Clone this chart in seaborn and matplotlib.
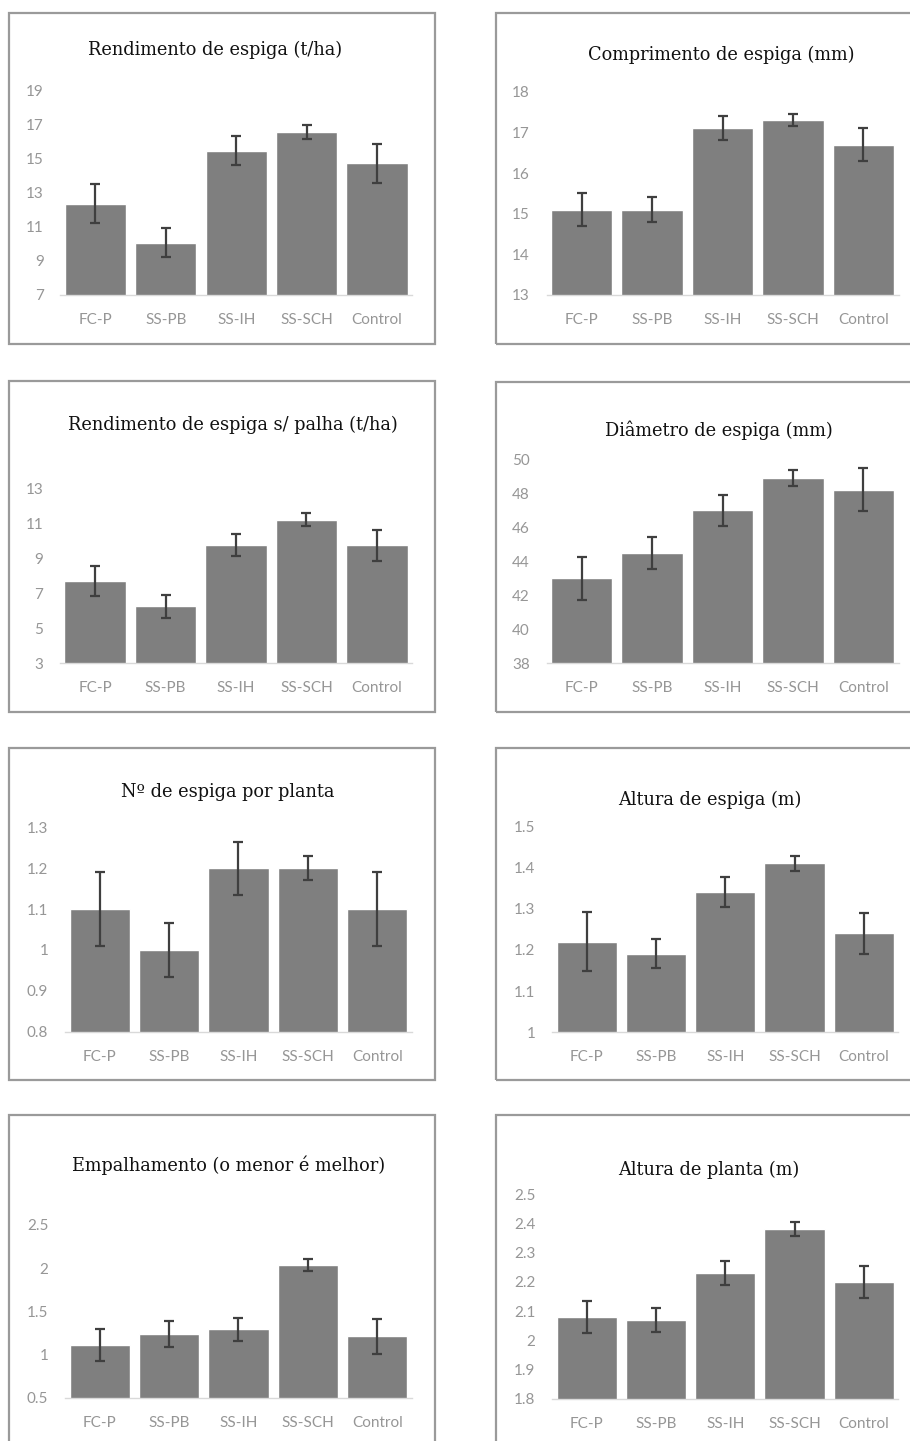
import numpy as np
import pandas as pd
import matplotlib
matplotlib.use("Agg")
import matplotlib.pyplot as plt
from matplotlib.patches import Rectangle
from matplotlib.ticker import FuncFormatter
import seaborn as sns

sns.set_theme(style="white")
plt.rcParams["font.family"] = ["Lato", "DejaVu Sans"]

# Treatments
categories = ["FC-P", "SS-PB", "SS-IH", "SS-SCH", "Control"]

# Panel titles
titles = [
    "Rendimento de espiga (t/ha)",
    "Comprimento de espiga (mm)",
    "Rendimento de espiga s/ palha (t/ha)",
    "Diâmetro de espiga (mm)",
    "Nº de espiga por planta",
    "Altura de espiga (m)",
    "Empalhamento (o menor é melhor)",
    "Altura de planta (m)",
]

# Means per treatment
rend_espiga = [12.35, 10.05, 15.45, 16.55, 14.7]
comp_espiga = [15.1, 15.1, 17.1, 17.3, 16.7]
rend_sem_palha = [7.7, 6.25, 9.75, 11.2, 9.75]
diam_espiga = [43.0, 44.5, 47.0, 48.9, 48.2]
n_espiga = [1.1, 1.0, 1.2, 1.2, 1.1]
alt_espiga = [1.22, 1.19, 1.34, 1.41, 1.24]
empalhamento = [1.11, 1.24, 1.29, 2.04, 1.21]
alt_planta = [2.08, 2.07, 2.23, 2.38, 2.2]

# Standard errors
rend_espiga_err = [1.15, 0.85, 0.85, 0.43, 1.15]
comp_espiga_err = [0.4, 0.3, 0.3, 0.15, 0.4]
rend_sem_palha_err = [0.85, 0.65, 0.62, 0.37, 0.88]
diam_espiga_err = [1.25, 0.95, 0.9, 0.48, 1.27]
n_espiga_err = [0.09, 0.065, 0.065, 0.03, 0.09]
alt_espiga_err = [0.072, 0.035, 0.036, 0.018, 0.05]
empalhamento_err = [0.18, 0.15, 0.13, 0.07, 0.2]
alt_planta_err = [0.055, 0.04, 0.04, 0.025, 0.055]

# Y axis ticks per panel
ticks_rend_espiga = [7, 9, 11, 13, 15, 17, 19]
ticks_comp_espiga = [13, 14, 15, 16, 17, 18]
ticks_rend_sem_palha = [3, 5, 7, 9, 11, 13]
ticks_diam_espiga = [38, 40, 42, 44, 46, 48, 50]
ticks_n_espiga = [0.8, 0.9, 1.0, 1.1, 1.2, 1.3]
ticks_alt_espiga = [1.0, 1.1, 1.2, 1.3, 1.4, 1.5]
ticks_empalhamento = [0.5, 1.0, 1.5, 2.0, 2.5]
ticks_alt_planta = [1.8, 1.9, 2.0, 2.1, 2.2, 2.3, 2.4, 2.5]

means = [rend_espiga, comp_espiga, rend_sem_palha, diam_espiga,
         n_espiga, alt_espiga, empalhamento, alt_planta]
errors = [rend_espiga_err, comp_espiga_err, rend_sem_palha_err, diam_espiga_err,
          n_espiga_err, alt_espiga_err, empalhamento_err, alt_planta_err]
yticks = [ticks_rend_espiga, ticks_comp_espiga, ticks_rend_sem_palha, ticks_diam_espiga,
          ticks_n_espiga, ticks_alt_espiga, ticks_empalhamento, ticks_alt_planta]

W, H = 910, 1441
fig = plt.figure(figsize=(W / 100, H / 100), dpi=100)
fig.patch.set_facecolor("white")

# Panel frames (pixel boxes: left, top, right, bottom)
frames = [
    (9, 13, 435, 344), (496, 13, 918, 344),
    (9, 381, 435, 712), (496, 382, 918, 712),
    (9, 748, 435, 1080), (496, 748, 918, 1080),
    (9, 1115, 435, 1460), (496, 1115, 918, 1460),
]
# Plot areas (pixel boxes: left, top, right, bottom)
areas = [
    (60.3, 90, 412.2, 295), (546.5, 91.7, 898.5, 295),
    (59.8, 488.3, 412.2, 663.3), (546.5, 459.3, 898.5, 663.3),
    (65, 827.3, 412, 1031.7), (552.1, 826, 898.4, 1032.3),
    (65, 1225, 412, 1397.7), (552.1, 1194, 898.4, 1399),
]
# Title centres (pixels)
title_pos = [
    (214.7, 50), (720.8, 55),
    (233, 425), (719, 430),
    (227.5, 792), (710, 800),
    (229, 1165), (709, 1170),
]

for (l, t, r, b) in frames:
    fig.patches.append(Rectangle((l / W, 1 - b / H), (r - l) / W, (b - t) / H,
                                 transform=fig.transFigure, fill=False,
                                 edgecolor="#9a9a9a", linewidth=1.6, zorder=0))

fmt = FuncFormatter(lambda v, _: f"{v:g}")

for i in range(8):
    l, t, r, b = areas[i]
    ax = fig.add_axes([l / W, 1 - b / H, (r - l) / W, (b - t) / H])
    df = pd.DataFrame({"trat": categories, "valor": means[i]})
    sns.barplot(data=df, x="trat", y="valor", color="#7f7f7f", saturation=1,
                width=0.87, errorbar=None, ax=ax)
    ax.errorbar(x=np.arange(len(categories)), y=means[i], yerr=errors[i],
                fmt="none", ecolor="#3f3f3f", elinewidth=1.6, capsize=3.5,
                capthick=1.6, zorder=5)
    ax.set_xlim(-0.5, len(categories) - 0.5)
    ax.set_ylim(yticks[i][0], yticks[i][-1])
    ax.set_yticks(yticks[i])
    ax.yaxis.set_major_formatter(fmt)
    ax.set_xlabel("")
    ax.set_ylabel("")
    ax.set_facecolor("none")
    for side in ["top", "right", "left"]:
        ax.spines[side].set_visible(False)
    ax.spines["bottom"].set_color("#d9d9d9")
    ax.spines["bottom"].set_linewidth(1.0)
    ax.tick_params(axis="both", length=0, labelsize=11, labelcolor="#969696")
    ax.tick_params(axis="y", pad=12)
    ax.tick_params(axis="x", pad=13)
    tx, ty = title_pos[i]
    fig.text(tx / W, 1 - ty / H, titles[i], ha="center", va="center",
             family=["DejaVu Serif"], fontsize=12.8, color="#111111")

fig.savefig("out.png", dpi=100, facecolor="white")
